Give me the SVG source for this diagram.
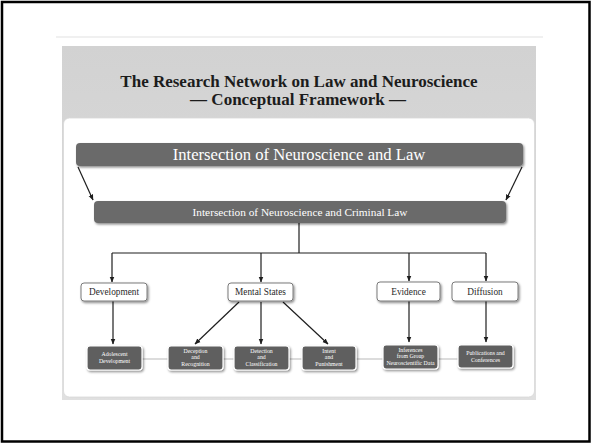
<svg xmlns="http://www.w3.org/2000/svg" width="592" height="443" viewBox="0 0 592 443">
  <defs>
    <linearGradient id="panelGrad" x1="0" y1="0" x2="0" y2="1">
      <stop offset="0" stop-color="#d2d2d2"/>
      <stop offset="1" stop-color="#e0e0e0"/>
    </linearGradient>
    <filter id="sh" x="-10%" y="-20%" width="130%" height="160%">
      <feDropShadow dx="1.2" dy="1.5" stdDeviation="0.9" flood-color="#000" flood-opacity="0.45"/>
    </filter>
    <marker id="ah" viewBox="0 0 10 10" refX="9" refY="5" markerWidth="6" markerHeight="6" orient="auto" markerUnits="userSpaceOnUse">
      <path d="M0,1 L10,5 L0,9 Z" fill="#1e1e1e"/>
    </marker>
    <style>
      .serif { font-family: "Liberation Serif", "DejaVu Serif", serif; }
      .title { font-size: 17px; font-weight: bold; fill: #1c1c1c; text-anchor: middle; }
      .bar { fill: #6b6b6b; }
      .barText { fill: #ffffff; text-anchor: middle; }
      .mid { fill: #ffffff; stroke: #7a7a7a; stroke-width: 1; }
      .midText { font-size: 9.3px; fill: #2a2a2a; text-anchor: middle; }
      .low { fill: #5f5f5f; stroke: #ffffff; stroke-width: 1.2; }
      .lowText { font-size: 5.8px; fill: #ffffff; text-anchor: middle; }
      .line { stroke: #1e1e1e; stroke-width: 1.2; fill: none; }
      .arrow { stroke: #1e1e1e; stroke-width: 1.2; fill: none; marker-end: url(#ah); }
    </style>
  </defs>

  <!-- page -->
  <rect x="0" y="0" width="592" height="443" fill="#ffffff"/>
  <rect x="2" y="2" width="587.5" height="439.5" fill="none" stroke="#000" stroke-width="2.5"/>
  <line x1="56" y1="37" x2="543" y2="37" stroke="#e2e2e2" stroke-width="1.2"/>

  <!-- panels -->
  <rect x="62" y="46" width="474" height="354" fill="url(#panelGrad)"/>
  <rect x="63.5" y="118" width="471" height="279" rx="6" fill="#ffffff" stroke="#d8d8d8" stroke-width="0.8"/>

  <g id="title" class="serif">
    <text class="title" x="299" y="87">The Research Network on Law and Neuroscience</text>
    <text class="title" x="298" y="105">— Conceptual Framework —</text>
  </g>

  <!-- connectors -->
  <g id="connectors">
    <line x1="142" y1="359" x2="458" y2="359" stroke="#dcdcdc" stroke-width="2.2"/>
    <line class="arrow" x1="78" y1="167" x2="93" y2="200"/>
    <line class="arrow" x1="522" y1="167" x2="506" y2="200"/>
    <polyline class="line" points="299,223 299,253"/>
    <polyline class="line" points="112,253 486,253"/>
    <line class="arrow" x1="112" y1="253" x2="112" y2="282"/>
    <line class="arrow" x1="261" y1="253" x2="261" y2="282"/>
    <line class="arrow" x1="409" y1="253" x2="409" y2="281"/>
    <line class="arrow" x1="486" y1="253" x2="486" y2="281"/>
    <line class="arrow" x1="113" y1="301" x2="113" y2="344"/>
    <line class="arrow" x1="239" y1="302" x2="195" y2="344"/>
    <line class="arrow" x1="261" y1="302" x2="261" y2="344"/>
    <line class="arrow" x1="283" y1="302" x2="328" y2="344"/>
    <line class="arrow" x1="409" y1="301" x2="409" y2="342"/>
    <line class="arrow" x1="486" y1="301" x2="486" y2="342"/>
  </g>

  <g id="n-law" class="serif">
    <rect class="bar" x="76" y="143" width="447" height="23" rx="4" filter="url(#sh)"/>
    <text class="barText" x="299" y="160" font-size="16.6">Intersection of Neuroscience and Law</text>
  </g>

  <g id="n-criminal" class="serif">
    <rect class="bar" x="94" y="201" width="412" height="22" rx="4" filter="url(#sh)"/>
    <text class="barText" x="300" y="215.5" font-size="11.3">Intersection of Neuroscience and Criminal Law</text>
  </g>

  <g id="n-development" class="serif">
    <rect class="mid" x="81" y="283" width="66" height="18" rx="3" filter="url(#sh)"/>
    <text class="midText" x="114" y="295">Development</text>
  </g>
  <g id="n-mental" class="serif">
    <rect class="mid" x="228" y="283" width="65" height="18" rx="3" filter="url(#sh)"/>
    <text class="midText" x="260.5" y="295">Mental States</text>
  </g>
  <g id="n-evidence" class="serif">
    <rect class="mid" x="377" y="282" width="63" height="19" rx="3" filter="url(#sh)"/>
    <text class="midText" x="408.5" y="294.5">Evidence</text>
  </g>
  <g id="n-diffusion" class="serif">
    <rect class="mid" x="452" y="282" width="66" height="19" rx="3" filter="url(#sh)"/>
    <text class="midText" x="485" y="294.5">Diffusion</text>
  </g>

  <g id="n-adolescent" class="serif">
    <rect class="low" x="87" y="346" width="55" height="24" rx="3" filter="url(#sh)"/>
    <text class="lowText" x="114.5" y="356">Adolescent</text>
    <text class="lowText" x="114.5" y="363">Development</text>
  </g>
  <g id="n-deception" class="serif">
    <rect class="low" x="168" y="346" width="55" height="24" rx="3" filter="url(#sh)"/>
    <text class="lowText" x="195.5" y="352.5">Deception</text>
    <text class="lowText" x="195.5" y="359">and</text>
    <text class="lowText" x="195.5" y="365.5">Recognition</text>
  </g>
  <g id="n-detection" class="serif">
    <rect class="low" x="234" y="346" width="55" height="24" rx="3" filter="url(#sh)"/>
    <text class="lowText" x="261.5" y="352.5">Detection</text>
    <text class="lowText" x="261.5" y="359">and</text>
    <text class="lowText" x="261.5" y="365.5">Classification</text>
  </g>
  <g id="n-intent" class="serif">
    <rect class="low" x="302" y="346" width="54" height="24" rx="3" filter="url(#sh)"/>
    <text class="lowText" x="329" y="352.5">Intent</text>
    <text class="lowText" x="329" y="359">and</text>
    <text class="lowText" x="329" y="365.5">Punishment</text>
  </g>
  <g id="n-inferences" class="serif">
    <rect class="low" x="383" y="345" width="55" height="24" rx="3" filter="url(#sh)"/>
    <text class="lowText" x="410.5" y="351.5">Inferences</text>
    <text class="lowText" x="410.5" y="358">from Group</text>
    <text class="lowText" x="410.5" y="364.5">Neuroscientific Data</text>
  </g>
  <g id="n-publications" class="serif">
    <rect class="low" x="458" y="345" width="55" height="23" rx="3" filter="url(#sh)"/>
    <text class="lowText" x="485.5" y="355">Publications and</text>
    <text class="lowText" x="485.5" y="361.5">Conferences</text>
  </g>
</svg>
